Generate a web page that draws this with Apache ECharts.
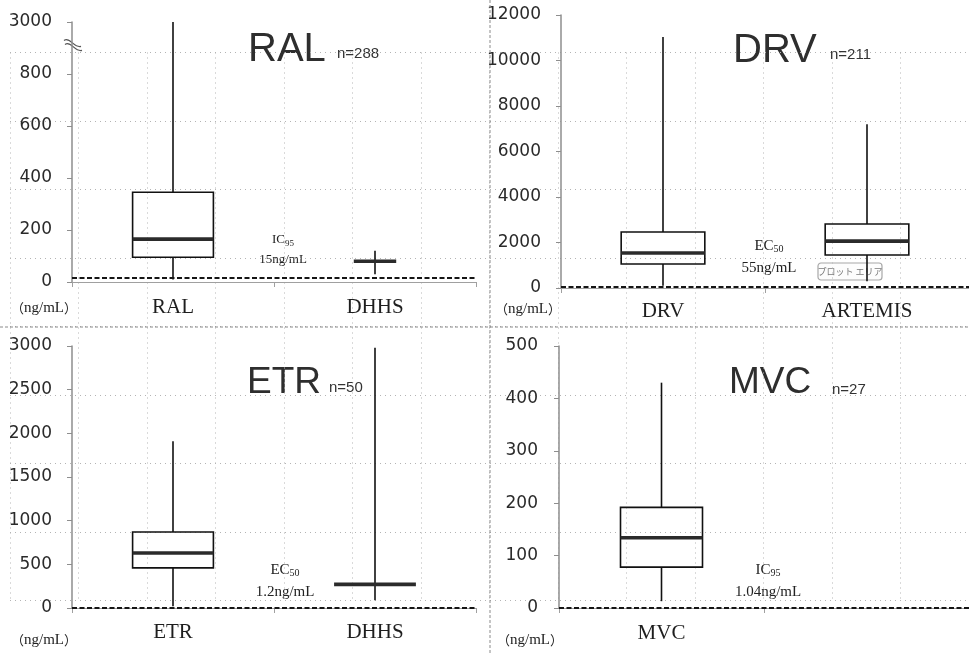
<!DOCTYPE html>
<html>
<head>
<meta charset="utf-8">
<script src="https://cdn.jsdelivr.net/npm/echarts@6/dist/echarts.min.js"></script>
<style>
  html, body { margin: 0; padding: 0; background: #fff; }
  #main { width: 969px; height: 654px; }
</style>
</head>
<body>
<div id="main"></div>
<script>
// ---- Plasma concentrations (ng/mL): [min, Q1, median, Q3, max] per category ----
const ralCats = ['RAL', 'DHHS'];
const ralStats = [[10, 95, 165, 345, 3000], [30, 80, 80, 80, 120]];
const ralThreshold = 15;
const ralTickLabels = ['0', '200', '400', '600', '800', '3000'];
const ralNote = ['IC', '95', '15ng/mL'];
const ralTitle = ['RAL', 'n=288'];

const drvCats = ['DRV', 'ARTEMIS'];
const drvStats = [[100, 1055, 1540, 2460, 11030], [300, 1450, 2060, 2810, 7200]];
const drvThreshold = 55;
const drvNote = ['EC', '50', '55ng/mL'];
const drvTitle = ['DRV', 'n=211'];

const etrCats = ['ETR', 'DHHS'];
const etrStats = [[20, 460, 630, 870, 1910], [90, 270, 270, 270, 2980]];
const etrThreshold = 1.2;
const etrNote = ['EC', '50', '1.2ng/mL'];
const etrTitle = ['ETR', 'n=50'];

const mvcCats = ['MVC', ''];
const mvcStats = [[13, 78, 134, 192, 430]];
const mvcThreshold = 1.04;
const mvcNote = ['IC', '95', '1.04ng/mL'];
const mvcTitle = ['MVC', 'n=27'];

const unitLabel = ['（', 'ng/mL', '）'];
const plotAreaTip = 'プロット エリア';

// RAL axis is broken between 800 and 3000: values above BREAK_LO are compressed
const BREAK_LO = 900, BREAK_TOP = 3000, AXIS_TOP = 1000;
function ralScale(v) {
  return v <= BREAK_LO ? v : BREAK_LO + (v - BREAK_LO) * (AXIS_TOP - BREAK_LO) / (BREAK_TOP - BREAK_LO);
}
const identity = v => v;

// ---- layout & style ----
const grids = [
  { left: 72, top: 22, width: 404, height: 260 },
  { left: 561, top: 15, width: 418, height: 273 },
  { left: 72, top: 346, width: 404, height: 262 },
  { left: 559, top: 346, width: 418, height: 262 }
];
const boxWidths = [[0.40, 0.21], [0.41, 0.41], [0.40, 0.405], [0.40, 0.40]];
const yMax = [AXIS_TOP, 12000, 3000, 500];
const yStep = [200, 2000, 500, 100];
const yMargin = [20, 20, 20, 21];
const xMargin = [15, 13, 14, 15];

const serif = '"Liberation Serif", "Times New Roman", serif';
const sans = '"Liberation Sans", Arial, sans-serif';
const axisGray = '#8e8e8e';

function boxRenderer(widths) {
  return function (params, api) {
    const i = api.value(0);
    const vMin = api.value(1), vQ1 = api.value(2), vMed = api.value(3), vQ3 = api.value(4), vMax = api.value(5);
    const x = api.coord([i, vMin])[0];
    const yMin = api.coord([i, vMin])[1];
    const yQ1 = api.coord([i, vQ1])[1];
    const yMed = api.coord([i, vMed])[1];
    const yQ3 = api.coord([i, vQ3])[1];
    const yMx = api.coord([i, vMax])[1];
    const half = api.size([1, 0])[0] * widths[i] / 2;
    const stroke = { stroke: '#111', lineWidth: 1.6, fill: null };
    const children = [
      { type: 'line', shape: { x1: x, y1: yMx, x2: x, y2: yQ3 }, style: stroke },
      { type: 'line', shape: { x1: x, y1: yQ1, x2: x, y2: yMin }, style: stroke }
    ];
    if (yQ1 - yQ3 > 0.5) {
      children.push({ type: 'rect', shape: { x: x - half, y: yQ3, width: half * 2, height: yQ1 - yQ3 }, style: stroke });
    }
    children.push({ type: 'line', shape: { x1: x - half, y1: yMed, x2: x + half, y2: yMed },
      style: { stroke: '#2b2b2b', lineWidth: 3.6 } });
    return { type: 'group', children };
  };
}

const panels = [
  { cats: ralCats, stats: ralStats, thr: ralThreshold, scale: ralScale },
  { cats: drvCats, stats: drvStats, thr: drvThreshold, scale: identity },
  { cats: etrCats, stats: etrStats, thr: etrThreshold, scale: identity },
  { cats: mvcCats, stats: mvcStats, thr: mvcThreshold, scale: identity }
];

const option = {
  animation: false,
  backgroundColor: '#fff',
  grid: grids.concat([{ left: 10, top: 52.5, width: 959, height: 548 }]),
  xAxis: panels.map((p, k) => ({
    type: 'category', gridIndex: k, data: p.cats, boundaryGap: true,
    axisLine: { lineStyle: { color: '#a0a0a0', width: 1 } },
    axisTick: { show: true, length: 5, lineStyle: { color: '#a0a0a0' } },
    axisLabel: { fontFamily: serif, fontSize: 21, color: '#1e1e1e', margin: xMargin[k] },
    splitLine: { show: false }
  })).concat([{
    type: 'value', gridIndex: 4, min: 0, max: 959, interval: 68.5,
    axisLine: { show: false }, axisTick: { show: false }, axisLabel: { show: false },
    splitLine: { show: true, lineStyle: { color: '#b4b4b4', type: [1, 4], width: 1 } }
  }]),
  yAxis: panels.map((p, k) => ({
    type: 'value', gridIndex: k, min: 0, max: yMax[k], interval: yStep[k],
    axisLine: { show: true, lineStyle: { color: axisGray, width: 1.5 } },
    axisTick: { show: true, length: 5, lineStyle: { color: axisGray } },
    axisLabel: {
      fontFamily: '"DejaVu Sans", Verdana, sans-serif', fontSize: 17, color: '#2a2a2a', margin: yMargin[k],
      formatter: k === 0 ? (v => ralTickLabels[Math.round(v / yStep[0])]) : (v => String(v))
    },
    splitLine: { show: false }
  })).concat([{
    type: 'value', gridIndex: 4, min: 0, max: 548, interval: 68.5,
    axisLine: { show: false }, axisTick: { show: false }, axisLabel: { show: false },
    splitLine: { show: true, lineStyle: { color: '#b4b4b4', type: [1, 4], width: 1 } }
  }]),
  series: panels.map((p, k) => ({
    type: 'custom', xAxisIndex: k, yAxisIndex: k,
    renderItem: boxRenderer(boxWidths[k]),
    encode: { x: 0, y: [1, 2, 3, 4, 5] },
    data: p.stats.map((s, i) => [i].concat(s.map(p.scale))),
    z: 3,
    markLine: {
      silent: true, symbol: ['none', 'none'], label: { show: false },
      lineStyle: { type: [5, 2.5], color: '#151515', width: 2.2 },
      data: [{ yAxis: p.scale(p.thr) }]
    }
  })),
  graphic: []
};

// titles, notes and unit labels
function titleGraphics(title, x, y, size, nx, ny, nsize) {
  return [
    { type: 'text', x: x, y: y, style: { text: title[0], font: size + 'px ' + sans, fill: '#2e2e2e', align: 'left', verticalAlign: 'middle' } },
    { type: 'text', x: nx, y: ny, style: { text: title[1], font: nsize + 'px ' + sans, fill: '#333', align: 'left', verticalAlign: 'middle' } }
  ];
}
function noteGraphic(note, x, y, size) {
  return {
    type: 'text', x: x, y: y,
    style: {
      text: '{a|' + note[0] + '}{s|' + note[1] + '}\n{a|' + note[2] + '}',
      align: 'center', verticalAlign: 'middle', fill: '#222',
      rich: {
        a: { fontFamily: serif, fontSize: size, lineHeight: size + 7, fill: '#222' },
        s: { fontFamily: serif, fontSize: Math.round(size * 0.68), padding: [7, 0, 0, 0], fill: '#222' }
      }
    }
  };
}
function unitGraphic(x, y) {
  return {
    type: 'text', x: x, y: y,
    style: {
      text: '{p|' + unitLabel[0] + '}{u|' + unitLabel[1] + '}{p|' + unitLabel[2] + '}',
      align: 'center', verticalAlign: 'middle',
      rich: {
        p: { fontFamily: '"Noto Sans CJK JP"', fontSize: 13, fill: '#222' },
        u: { fontFamily: serif, fontSize: 15, fill: '#222' }
      }
    }
  };
}

let g = [];
g = g.concat(titleGraphics(ralTitle, 248, 50, 40, 337, 54, 15));
g = g.concat(titleGraphics(drvTitle, 733, 51, 40, 830, 55, 15));
g = g.concat(titleGraphics(etrTitle, 247, 383, 37, 329, 388, 15));
g = g.concat(titleGraphics(mvcTitle, 729, 383, 37, 832, 390, 15));
g.push(noteGraphic(ralNote, 283, 250, 13));
g.push(noteGraphic(drvNote, 769, 257, 15));
g.push(noteGraphic(etrNote, 285, 581, 15));
g.push(noteGraphic(mvcNote, 768, 581, 15));
g.push(unitGraphic(44, 308));
g.push(unitGraphic(528, 309));
g.push(unitGraphic(44, 640));
g.push(unitGraphic(530, 640));

// panel separators
g.push({ type: 'line', shape: { x1: 0, y1: 327, x2: 969, y2: 327 }, style: { stroke: '#8a8a8a', lineWidth: 1, lineDash: [3, 2] }, z: 1 });
g.push({ type: 'line', shape: { x1: 490, y1: 0, x2: 490, y2: 654 }, style: { stroke: '#8a8a8a', lineWidth: 1, lineDash: [3, 2] }, z: 1 });

// plot-area hint box
g.push({
  type: 'group', x: 818, y: 263, z: 20, children: [
    { type: 'rect', shape: { x: 0, y: 0, width: 64, height: 17, r: 3 }, style: { fill: '#fdfdfd', stroke: '#a8a8a8', lineWidth: 1.2 } },
    { type: 'text', x: 32, y: 9, style: { text: plotAreaTip, font: '9px "Noto Sans CJK JP"', fill: '#7a7a7a', align: 'center', verticalAlign: 'middle' } }
  ]
});

option.graphic = g;

const chart = echarts.init(document.getElementById('main'), null, { renderer: 'canvas' });
chart.setOption(option);

// axis-break mark on the RAL value axis
const yBreak = chart.convertToPixel({ yAxisIndex: 0 }, 910);
const xAxisLine = grids[0].left;
chart.setOption({
  graphic: g.concat([{
    type: 'group', x: xAxisLine, y: yBreak, z: 30, children: [
      { type: 'rect', shape: { x: -3, y: -4, width: 6, height: 8 }, style: { fill: '#fff' } },
      { type: 'bezierCurve', shape: { x1: -8, y1: -5, cpx1: -2, cpy1: -9, cpx2: 2, cpy2: 3, x2: 9, y2: 1 }, style: { stroke: '#555', lineWidth: 1.2, fill: null } },
      { type: 'bezierCurve', shape: { x1: -7, y1: -1, cpx1: -1, cpy1: -5, cpx2: 3, cpy2: 7, x2: 10, y2: 5 }, style: { stroke: '#555', lineWidth: 1.2, fill: null } }
    ]
  }])
});
</script>
</body>
</html>
